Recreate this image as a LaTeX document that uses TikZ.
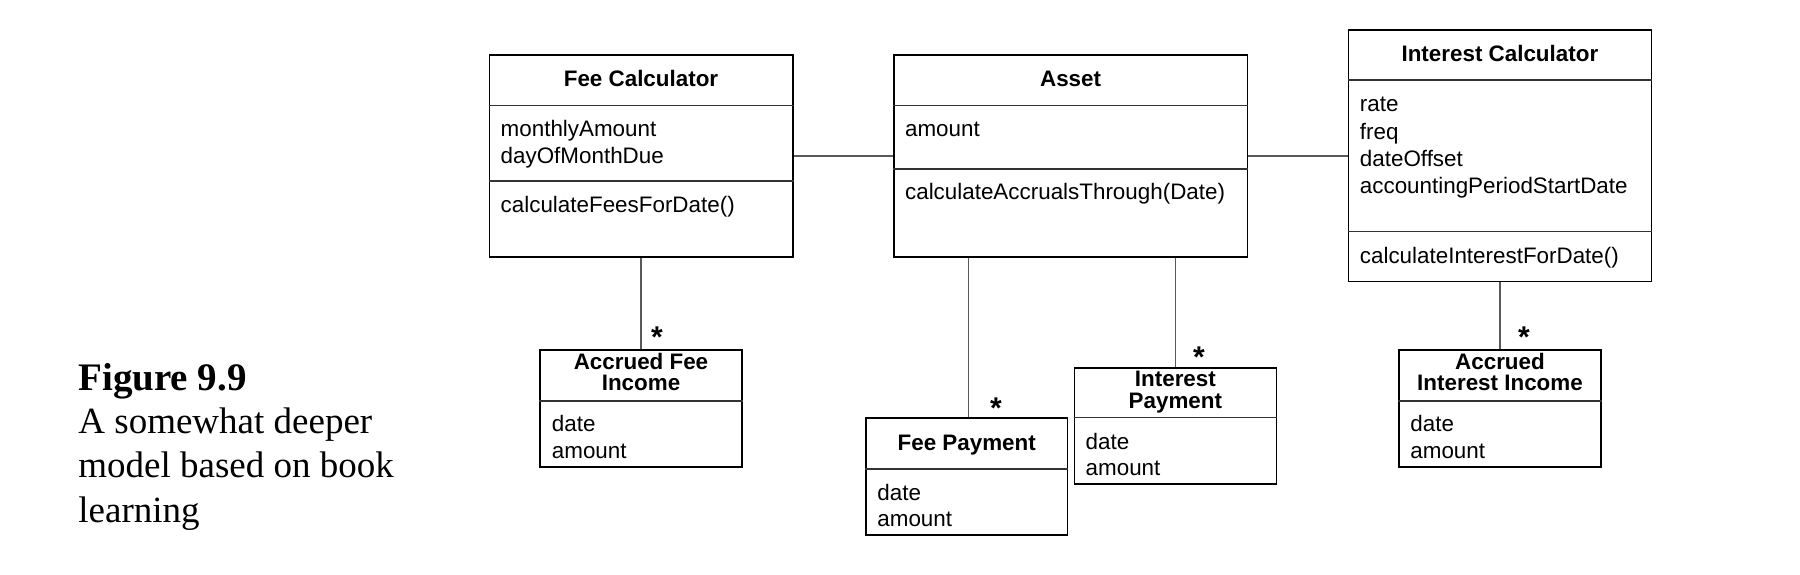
\documentclass[tikz,border=0pt]{standalone}
\usepackage{fontspec}
\setmainfont{Liberation Serif}
\newfontfamily\arial{Liberation Sans}
\usetikzlibrary{calc}
\definecolor{conn}{gray}{0.35}
\definecolor{sepc}{gray}{0.2}
\tikzset{
  cls/.style={draw=black, line width=0.8pt, rectangle, inner sep=0pt, fill=none},
  sepline/.style={draw=sepc, line width=0.6pt},
  assoc/.style={draw=conn, line width=0.6pt},
  txt/.style={font=\arial\fontsize{11.2}{13.35}\selectfont, inner sep=0pt, anchor=base west},
  ttl/.style={font=\arial\bfseries\fontsize{11.2}{13.35}\selectfont, inner sep=0pt, anchor=base},
  mult/.style={font=\arial\bfseries\fontsize{15}{18}\selectfont, inner sep=0pt, anchor=base},
  capbold/.style={font=\bfseries\fontsize{19.5}{23}\selectfont, inner sep=0pt, anchor=base west},
  captxt/.style={font=\fontsize{18.5}{22}\selectfont, inner sep=0pt, anchor=base west}
}
\begin{document}
\begin{tikzpicture}[x=0.5pt, y=-0.5pt]
\fill[white] (0,0) rectangle (1800,574);
\useasboundingbox (0,0) rectangle (1800,574);

% class boxes
\node[cls, minimum width=151.7pt, minimum height=101pt] (fc) at (641,156) {};
\node[cls, minimum width=176.9pt, minimum height=101pt] (asset) at (1070.6,156) {};
\node[cls, minimum width=151.4pt, minimum height=125.9pt] (ic) at (1499.9,155.6) {};
\node[cls, minimum width=101pt, minimum height=58.35pt] (afi) at (641,408.35) {};
\node[cls, minimum width=100.75pt, minimum height=58.5pt] (fp) at (966.75,476.5) {};
\node[cls, minimum width=101.1pt, minimum height=58.15pt] (ip) at (1175.4,425.85) {};
\node[cls, minimum width=101pt, minimum height=58.35pt] (aii) at (1500,408.35) {};

% compartment separators
\draw[sepline] (fc.west |- 0,105.7) -- (fc.east |- 0,105.7);
\draw[sepline] (fc.west |- 0,181) -- (fc.east |- 0,181);
\draw[sepline] (asset.west |- 0,105.5) -- (asset.east |- 0,105.5);
\draw[sepline] (asset.west |- 0,169) -- (asset.east |- 0,169);
\draw[sepline] (ic.west |- 0,80) -- (ic.east |- 0,80);
\draw[sepline] (ic.west |- 0,231.7) -- (ic.east |- 0,231.7);
\draw[sepline] (afi.west |- 0,401) -- (afi.east |- 0,401);
\draw[sepline] (fp.west |- 0,469) -- (fp.east |- 0,469);
\draw[sepline] (ip.west |- 0,417.7) -- (ip.east |- 0,417.7);
\draw[sepline] (aii.west |- 0,401) -- (aii.east |- 0,401);

% associations
\draw[assoc] (fc.east) -- (asset.west);
\draw[assoc] (asset.east) -- (asset.east -| ic.west);
\draw[assoc] (fc.south) -- (afi.north);
\draw[assoc] ($(fp.north)+(2,0)$) -- ($(fp.north |- asset.south)+(2,0)$);
\draw[assoc] (ip.north) -- (ip.north |- asset.south);
\draw[assoc] (ic.south) -- (ic.south |- aii.north);

% multiplicities
\node[mult] (mafi) at (657,347.4) {*};
\node[mult] (mfp) at (996,418.5) {*};
\node[mult] (mip) at (1199,367) {*};
\node[mult] (maii) at (1524,347.5) {*};

% Fee Calculator
\node[ttl] (fct) at (641,86) {Fee Calculator};
\node[txt] (fca1) at (500.3,136.7) {monthlyAmount};
\node[txt] (fca2) at (500.3,163.4) {dayOfMonthDue};
\node[txt] (fcm1) at (500.3,212.7) {calculateFeesForDate()};

% Asset
\node[ttl] (ast) at (1070.6,86) {Asset};
\node[txt] (asa1) at (904.7,136.5) {amount};
\node[txt] (asm1) at (904.7,199.5) {calculateAccrualsThrough(Date)};

% Interest Calculator
\node[ttl] (ict) at (1499.9,61) {Interest Calculator};
\node[txt] (ica1) at (1359.5,111.7) {rate};
\node[txt] (ica2) at (1359.5,139) {freq};
\node[txt] (ica3) at (1359.5,166) {dateOffset};
\node[txt] (ica4) at (1359.5,193) {accountingPeriodStartDate};
\node[txt] (icm1) at (1359.5,263) {calculateInterestForDate()};

% Accrued Fee Income
\node[ttl] (afit1) at (641,369.3) {Accrued Fee};
\node[ttl] (afit2) at (641,390.7) {Income};
\node[txt] (afia1) at (551.5,431.7) {date};
\node[txt] (afia2) at (551.5,458.3) {amount};

% Fee Payment
\node[ttl] (fpt) at (966.75,450) {Fee Payment};
\node[txt] (fpa1) at (877,500) {date};
\node[txt] (fpa2) at (877,526.7) {amount};

% Interest Payment
\node[ttl] (ipt1) at (1175.4,386.7) {Interest};
\node[ttl] (ipt2) at (1175.4,408.3) {Payment};
\node[txt] (ipa1) at (1085.3,449) {date};
\node[txt] (ipa2) at (1085.3,475) {amount};

% Accrued Interest Income
\node[ttl] (aiit1) at (1500,369.3) {Accrued};
\node[ttl] (aiit2) at (1500,390.7) {Interest Income};
\node[txt] (aiia1) at (1410,431.7) {date};
\node[txt] (aiia2) at (1410,458.3) {amount};

% caption
\node[capbold] (cap0) at (78,390) {Figure 9.9};
\node[captxt] (cap1) at (78,433) {A somewhat deeper};
\node[captxt] (cap2) at (78,477.5) {model based on book};
\node[captxt] (cap3) at (78,522) {learning};
\end{tikzpicture}
\end{document}
